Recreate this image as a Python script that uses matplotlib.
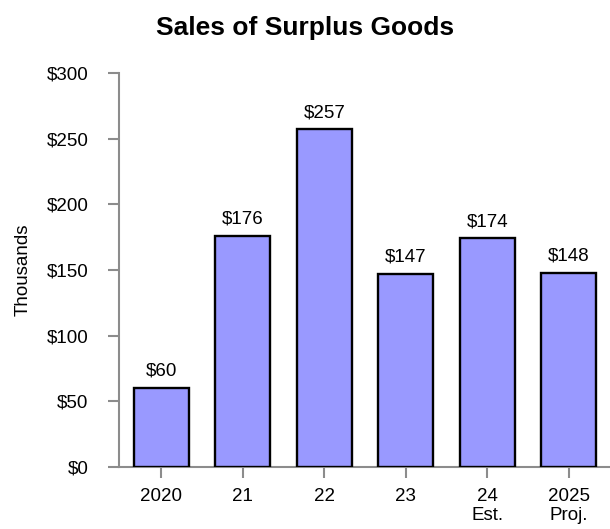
import matplotlib
matplotlib.use("Agg")
import matplotlib.pyplot as plt

plt.rcParams['font.family'] = ['Liberation Sans', 'DejaVu Sans']

years = ["2020", "21", "22", "23", "24\nEst.", "2025\nProj."]
sales = [60, 176, 257, 147, 174, 148]
y_ticks = [0, 50, 100, 150, 200, 250, 300]

bar_color = "#9999ff"
axis_gray = "#8c8c8c"


def main():
    fig = plt.figure(figsize=(6.10, 5.29), dpi=100)
    ax = fig.add_axes([119 / 610, 62 / 529, 491 / 610, 394 / 529])

    pos = list(range(len(sales)))
    ax.bar(pos, sales, width=0.676, color=bar_color,
           edgecolor="black", linewidth=1.7, zorder=3)

    for x, v in zip(pos, sales):
        ax.annotate(f"${v}", (x, v), xytext=(0, 6), textcoords="offset points",
                    ha="center", va="bottom", fontsize=13.5)

    ax.set_xlim(-0.522, 5.509)
    ax.set_ylim(0, 300)
    ax.set_xticks(pos)
    ax.set_xticklabels(years, fontsize=13.5, linespacing=1.15)
    ax.set_yticks(y_ticks)
    ax.set_yticklabels([f"${t}" for t in y_ticks], fontsize=13.5)

    for side in ["top", "right"]:
        ax.spines[side].set_visible(False)
    for side in ["left", "bottom"]:
        ax.spines[side].set_color(axis_gray)
        ax.spines[side].set_linewidth(1.5)
    ax.tick_params(axis="both", colors=axis_gray, labelcolor="black",
                   length=8, width=1.5)
    ax.tick_params(axis="y", pad=14)
    ax.tick_params(axis="x", pad=7)

    fig.text(0.5, 1 - 28 / 529, "Sales of Surplus Goods", ha="center",
             va="center", fontsize=19, fontweight="bold")
    fig.text(23 / 610, 1 - 270 / 529, "Thousands", rotation=90,
             ha="center", va="center", fontsize=13.5)

    fig.savefig("out.png", dpi=100)


if __name__ == "__main__":
    main()
